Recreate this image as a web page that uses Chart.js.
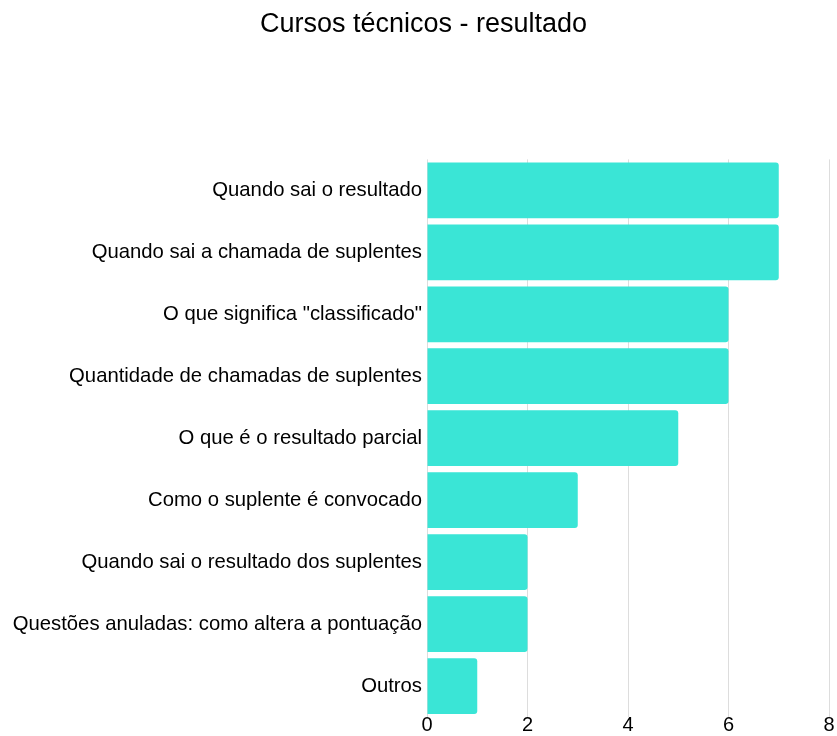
<!DOCTYPE html>
<html>
<head>
<meta charset="utf-8">
<script src="https://cdn.jsdelivr.net/npm/chart.js@4"></script>
<style>
  html, body { margin: 0; padding: 0; background: #fff; }
  #wrap { width: 837px; height: 736px; }
</style>
</head>
<body>
<div id="wrap"><canvas id="resultadoChart"></canvas></div>
<script>
// dados do gráfico
const categorias = [
    "Quando sai o resultado",
    "Quando sai a chamada de suplentes",
    "O que significa \"classificado\"",
    "Quantidade de chamadas de suplentes",
    "O que é o resultado parcial",
    "Como o suplente é convocado",
    "Quando sai o resultado dos suplentes",
    "Questões anuladas: como altera a pontuação",
    "Outros"
];
const quantidades = [7, 7, 6, 6, 5, 3, 2, 2, 1];
const ticksX = [0, 2, 4, 6, 8];

const fonte = "'Liberation Sans', Arial, sans-serif";

// deixa os rótulos do eixo y usarem a margem esquerda (evita corte)
const ajusteEixoY = {
    id: "ajusteEixoY",
    afterLayout(chart) {
        chart.scales.y.left = 0;
    },
};

const resultadoChart = new Chart(document.getElementById("resultadoChart"), {
    type: "bar",
    data: {
        labels: categorias,
        datasets: [
            {
                data: quantidades,
                backgroundColor: "#3ae5d6",
                borderWidth: 0,
                borderRadius: { topRight: 3, bottomRight: 3 },
                borderSkipped: false,
                barPercentage: 0.9,
                categoryPercentage: 1,
            },
        ],
    },
    options: {
        indexAxis: "y",
        responsive: true,
        maintainAspectRatio: false,
        animation: false,
        layout: { padding: { top: 0, right: 8, bottom: 3, left: 18 } },
        plugins: {
            legend: { display: false },
            tooltip: { enabled: false },
            title: {
                display: true,
                text: "Cursos técnicos - resultado",
                color: "#000",
                font: { family: fonte, size: 27, weight: "normal" },
                padding: { top: 8, bottom: 119 },
            },
        },
        scales: {
            x: {
                min: 0,
                max: 8,
                afterBuildTicks: (axis) => {
                    axis.ticks = ticksX.map((v) => ({ value: v }));
                },
                grid: { color: "#dddddd", drawTicks: false, lineWidth: 1 },
                border: { display: false },
                ticks: {
                    color: "#000",
                    padding: -3,
                    font: { family: fonte, size: 20, lineHeight: 1.1 },
                },
            },
            y: {
                afterFit: (axis) => {
                    axis.width = 409;
                },
                grid: { display: false, drawTicks: false },
                border: { display: false },
                ticks: {
                    color: "#000",
                    padding: 5,
                    font: { family: fonte, size: 20.3 },
                },
            },
        },
    },
    plugins: [ajusteEixoY],
});
</script>
</body>
</html>
